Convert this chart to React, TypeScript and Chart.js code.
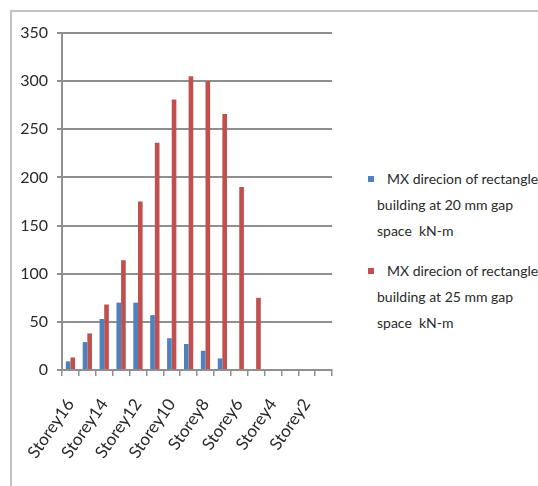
import React, { useEffect, useRef } from 'react';
import { Chart, registerables } from 'chart.js';

Chart.register(...registerables);

// Storeys from top to bottom of the building
const storeys = [
  'Storey16', 'Storey15', 'Storey14', 'Storey13', 'Storey12', 'Storey11', 'Storey10', 'Storey9',
  'Storey8', 'Storey7', 'Storey6', 'Storey5', 'Storey4', 'Storey3', 'Storey2', 'Storey1',
];

// MX moment (kN-m) per storey
const mx20mmGap = [9, 29, 53, 70, 70, 57, 33, 27, 20, 12, 0, 0, 0, 0, 0, 0];
const mx25mmGap = [13, 38, 68, 114, 175, 236, 281, 305, 300, 266, 190, 75, 0, 0, 0, 0];

// Legend text, one entry per line
const legend20mm = ['MX direcion of rectangle', 'building at 20 mm gap', 'space\u00a0\u00a0kN-m'];
const legend25mm = ['MX direcion of rectangle', 'building at 25 mm gap', 'space\u00a0\u00a0kN-m'];

const yMax = 350;
const yStep = 50;

const BLUE = '#4F81BD';
const RED = '#C0504D';
const FONT = 'Lato, "Open Sans", sans-serif';

const series = [
  { lines: legend20mm, values: mx20mmGap, color: BLUE },
  { lines: legend25mm, values: mx25mmGap, color: RED },
];

export default function App() {
  const canvasRef = useRef<HTMLCanvasElement | null>(null);

  useEffect(() => {
    document.body.style.margin = '0';
    const canvas = canvasRef.current;
    if (!canvas) return;
    const chart = new Chart(canvas, {
      type: 'bar',
      data: {
        labels: storeys,
        datasets: series.map((s) => ({
          label: s.lines.join(' '),
          data: s.values,
          backgroundColor: s.color,
          borderWidth: 0,
          categoryPercentage: 0.55,
          barPercentage: 1.0,
        })),
      },
      options: {
        animation: false,
        responsive: false,
        maintainAspectRatio: false,
        layout: { padding: { top: 33, right: 20, left: 0, bottom: 0 } },
        plugins: {
          legend: { display: false },
          tooltip: { enabled: false },
        },
        scales: {
          x: {
            grid: {
              display: true,
              drawOnChartArea: false,
              drawTicks: true,
              tickLength: 6,
              color: '#8f8f8f',
              lineWidth: 1.5,
            },
            border: { display: true, color: '#8f8f8f', width: 2 },
            ticks: {
              autoSkip: false,
              minRotation: 55,
              maxRotation: 55,
              padding: 19,
              color: '#2a2a2a',
              font: { family: FONT, size: 17 },
              callback: (_v: any, i: number) => (i % 2 === 0 ? storeys[i] : ''),
            },
            afterFit: (scale: any) => {
              scale.height = 116;
            },
          },
          y: {
            min: 0,
            max: yMax,
            grid: {
              color: '#8f8f8f',
              lineWidth: 2,
              drawTicks: true,
              tickLength: 5,
            },
            border: { display: true, color: '#8f8f8f', width: 2 },
            ticks: {
              stepSize: yStep,
              padding: 9,
              color: '#2a2a2a',
              font: { family: FONT, size: 16 },
            },
            afterFit: (scale: any) => {
              scale.width = 62;
            },
          },
        },
      },
    });
    return () => chart.destroy();
  }, []);

  return (
    <div style={{ position: 'relative', width: 538, height: 486, overflow: 'hidden', background: '#fff' }}>
      <div
        style={{
          position: 'absolute',
          left: 10,
          top: 10,
          width: 600,
          height: 600,
          border: '2px solid #c2c2c2',
          boxSizing: 'border-box',
        }}
      />
      <canvas
        ref={canvasRef}
        width={360}
        height={486}
        style={{ position: 'absolute', left: 0, top: 0, width: 360, height: 486 }}
      />
      {series.map((s, k) => (
        <div
          key={k}
          style={{
            position: 'absolute',
            left: 377,
            top: k === 0 ? 166 : 258,
            fontFamily: FONT,
            fontSize: 14,
            lineHeight: '26px',
            color: '#2a2a2a',
            whiteSpace: 'nowrap',
          }}
        >
          <span
            style={{
              position: 'absolute',
              left: -9,
              top: 10,
              width: 6,
              height: 6,
              background: s.color,
            }}
          />
          {s.lines.map((line, j) => (
            <div key={j} style={{ paddingLeft: j === 0 ? 10 : 0 }}>
              {line}
            </div>
          ))}
        </div>
      ))}
    </div>
  );
}
